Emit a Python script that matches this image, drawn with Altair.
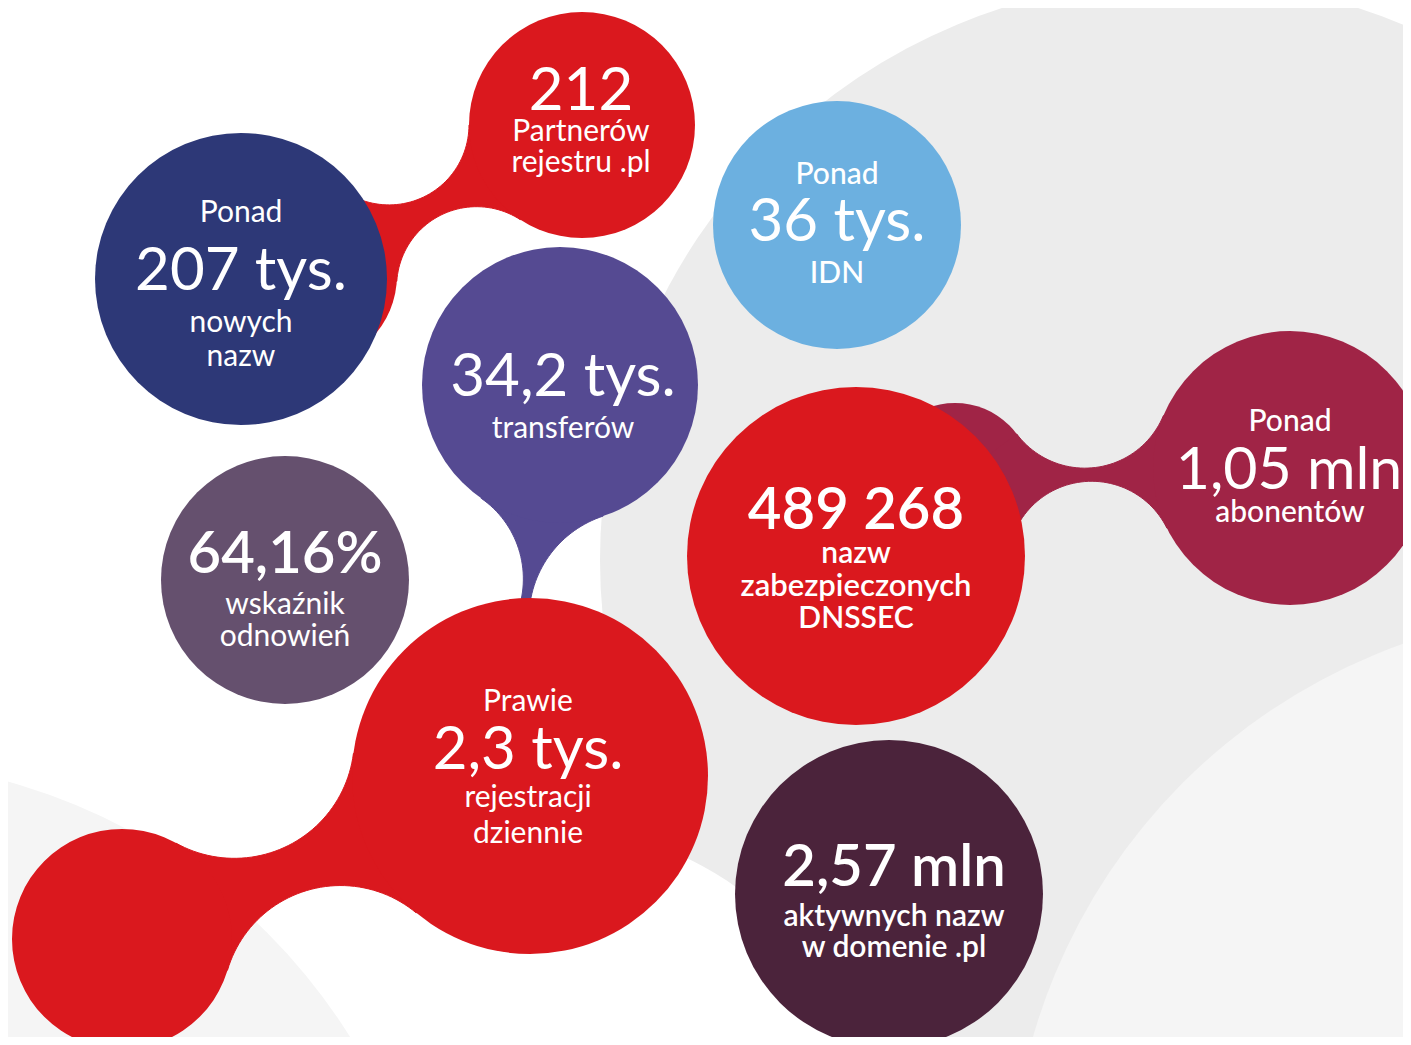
import math
import altair as alt
import pandas as pd

# ---------------- canvas ----------------
W, H = 1395, 1029
X0, Y0 = 8, 8
XS = alt.Scale(domain=[X0, X0 + W], nice=False, zero=False)
YS = alt.Scale(domain=[Y0, Y0 + H], nice=False, zero=False, reverse=True)

RED = "#da181e"
NAVY = "#2d3877"
PURPLE = "#554a92"
SKY = "#6cb0e0"
MAUVE = "#65506e"
CRIMSON = "#a02446"
PLUM = "#4b233b"

# ---------------- background swoosh ----------------
bg_x = [1180, 560, 1600, -150]
bg_y = [560, 1130, 1200, 1350]
bg_r = [580, 300, 590, 590]
bg_c = ["#ececec", "#ffffff", "#f5f5f5", "#f5f5f5"]

# ---------------- main bubbles ----------------
bub_x = [582, 241, 837, 560, 285, 856, 1290, 530, 889, 122]
bub_y = [125, 279, 225, 385, 580, 556, 468, 776, 894, 939]
bub_r = [113, 146, 124, 138, 124, 169, 137, 178, 154, 110]
bub_c = [RED, NAVY, SKY, PURPLE, MAUVE, RED, CRIMSON, RED, PLUM, RED]

# hidden anchor bubbles (behind other bubbles)
anc_x = [305, 505, 955]
anc_y = [275, 700, 480]
anc_r = [92, 47, 77]
anc_c = [RED, PURPLE, CRIMSON]

# necks: from bubble index -> to (kind, index), carve radii on both sides
neck_from = [0, 3, 6, 7]
neck_to = [("anc", 0), ("anc", 1), ("anc", 2), ("bub", 9)]
neck_rc_a = [80, 98, 85, 120]
neck_rc_b = [80, 108, 84, 118]
neck_c = [RED, PURPLE, CRIMSON, RED]

# ---------------- texts ----------------
txt = ["212", "Partnerów", "rejestru .pl",
       "Ponad", "207 tys.", "nowych", "nazw",
       "Ponad", "36 tys.", "IDN",
       "34,2 tys.", "transferów",
       "64,16%", "wskaźnik", "odnowień",
       "Ponad", "1,05 mln", "abonentów",
       "489 268", "nazw", "zabezpieczonych", "DNSSEC",
       "Prawie", "2,3 tys.", "rejestracji", "dziennie",
       "2,57 mln", "aktywnych nazw", "w domenie .pl"]
txt_x = [581, 581, 581,
         241, 241, 241, 241,
         837, 837, 837,
         563, 563,
         285, 285, 285,
         1290, 1289, 1290,
         856, 856, 856, 856,
         528, 528, 528, 528,
         894, 894, 894]
txt_y = [110, 141, 172,
         222, 290, 332, 366,
         184, 241, 283,
         396, 438,
         573, 614, 646,
         431, 489, 522,
         529, 563, 596, 628,
         711, 769, 807, 843,
         886, 926, 957]
txt_s = [60, 30, 30,
         30, 60, 30, 30,
         30, 60, 30,
         60, 30,
         58, 30, 30,
         30, 59, 30,
         58, 30, 31, 30,
         30, 60, 30, 30,
         58, 30, 30]
txt_w = [400, 400, 400,
         400, 400, 400, 400,
         500, 400, 500,
         400, 400,
         600, 400, 400,
         500, 400, 500,
         600, 600, 600, 600,
         400, 400, 400, 400,
         600, 600, 600]


def neck_polygon(ax, ay, ar, bx, by, br, rca, rcb, n=48):
    dx, dy = bx - ax, by - ay
    d = math.hypot(dx, dy)
    ex, ey = dx / d, dy / d
    px, py = -ey, ex

    def carve(rc, s):
        p = ar + rc
        q = br + rc
        t = (p * p - q * q + d * d) / (2 * d)
        h = math.sqrt(max(p * p - t * t, 0.0))
        cx = ax + t * ex + s * h * px
        cy = ay + t * ey + s * h * py
        tax, tay = ax + ar * (cx - ax) / p, ay + ar * (cy - ay) / p
        tbx, tby = bx + br * (cx - bx) / q, by + br * (cy - by) / q
        a0 = math.atan2(tay - cy, tax - cx)
        a1 = math.atan2(tby - cy, tbx - cx)
        da = (a1 - a0 + math.pi) % (2 * math.pi) - math.pi
        return [(cx + rc * math.cos(a0 + da * i / n), cy + rc * math.sin(a0 + da * i / n))
                for i in range(n + 1)]

    up = carve(rca, 1)
    lo = carve(rcb, -1)
    return [(ax, ay)] + up + [(bx, by)] + lo[::-1] + [(ax, ay)]


def circles_df(xs, ys, rs, cs):
    # Vega symbol size is the area of the bounding square: (2r)^2
    return pd.DataFrame({"x": xs, "y": ys,
                         "s": [4 * r * r for r in rs], "c": cs,
                         "o": list(range(len(xs)))})


def circle_layer(df):
    return alt.Chart(df).mark_circle(opacity=1, stroke=None).encode(
        x=alt.X("x:Q", scale=XS, axis=None),
        y=alt.Y("y:Q", scale=YS, axis=None),
        size=alt.Size("s:Q", scale=None, legend=None),
        color=alt.Color("c:N", scale=None, legend=None),
        order=alt.Order("o:Q"),
    )


layers = []
layers.append(circle_layer(circles_df(bg_x, bg_y, bg_r, bg_c)))
layers.append(circle_layer(circles_df(anc_x, anc_y, anc_r, anc_c)))

for i, (fi, (kind, ti)) in enumerate(zip(neck_from, neck_to)):
    ax, ay, ar = bub_x[fi], bub_y[fi], bub_r[fi]
    if kind == "anc":
        bx, by, br = anc_x[ti], anc_y[ti], anc_r[ti]
    else:
        bx, by, br = bub_x[ti], bub_y[ti], bub_r[ti]
    pts = neck_polygon(ax, ay, ar, bx, by, br, neck_rc_a[i], neck_rc_b[i])
    df = pd.DataFrame({"x": [p[0] for p in pts], "y": [p[1] for p in pts],
                       "o": list(range(len(pts)))})
    layers.append(
        alt.Chart(df).mark_line(fill=neck_c[i], stroke=neck_c[i], strokeWidth=1,
                                interpolate="linear").encode(
            x=alt.X("x:Q", scale=XS, axis=None),
            y=alt.Y("y:Q", scale=YS, axis=None),
            order=alt.Order("o:Q"),
        )
    )

layers.append(circle_layer(circles_df(bub_x, bub_y, bub_r, bub_c)))

tdf = pd.DataFrame({"t": txt, "x": txt_x, "y": txt_y, "s": txt_s, "w": txt_w})
for w in sorted(set(txt_w)):
    layers.append(
        alt.Chart(tdf[tdf["w"] == w]).mark_text(
            font="Lato", fontWeight=w, color="white", align="center",
            baseline="alphabetic").encode(
            x=alt.X("x:Q", scale=XS, axis=None),
            y=alt.Y("y:Q", scale=YS, axis=None),
            text="t:N",
            size=alt.Size("s:Q", scale=None, legend=None),
        )
    )

chart = alt.layer(*layers).properties(
    width=W, height=H, background="white", padding=0,
    autosize=alt.AutoSizeParams(type="none"),
).configure_view(stroke=None, clip=True)

chart.save("out.html", embed_options={"renderer": "svg", "actions": False})
